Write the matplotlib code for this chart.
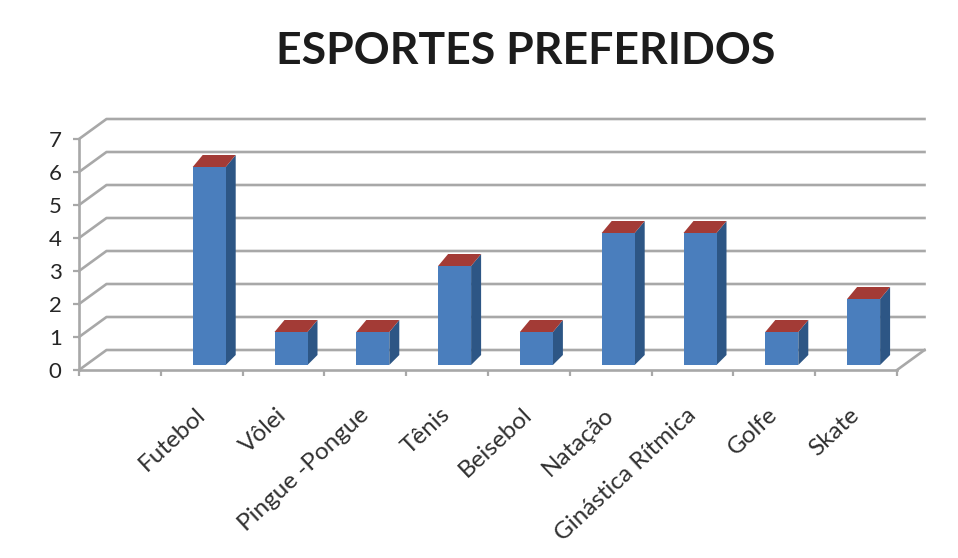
import matplotlib
matplotlib.use("Agg")
import matplotlib.pyplot as plt
from matplotlib.patches import Polygon

plt.rcParams['font.family'] = ['Lato', 'DejaVu Sans']

title = "ESPORTES PREFERIDOS"
categories = ["Futebol", "Vôlei", "Pingue -Pongue", "Tênis", "Beisebol",
              "Natação", "Ginástica Rítmica", "Golfe", "Skate"]
values = [6, 1, 1, 3, 1, 4, 4, 1, 2]
y_ticks = [0, 1, 2, 3, 4, 5, 6, 7]

W, H = 958, 558
L, R, B, T = 79, 897, 370, 139
PX_X = (R - L) / 10
PX_Y = (B - T) / 7
GRID = "#a8a8a8"
TEXT = "#262626"
FRONT, SIDE, TOP = "#4a7ebd", "#2d5685", "#a33b36"

fig = plt.figure(figsize=(W / 100, H / 100), dpi=100, facecolor="white")
ax = fig.add_axes([L / W, 1 - B / H, (R - L) / W, (B - T) / H])
ax.set_xlim(0, 10)
ax.set_ylim(0, 7)
ax.patch.set_alpha(0)

wall_dx, wall_dy = 27.5 / PX_X, 20 / PX_Y
for v in y_ticks:
    ax.plot([0, wall_dx, 10 + wall_dx], [v, v + wall_dy, v + wall_dy],
            color=GRID, lw=1.9, clip_on=False, zorder=1, solid_joinstyle="round")
ax.plot([10, 10 + wall_dx], [0, wall_dy], color=GRID, lw=1.9, clip_on=False, zorder=1)

for s in ("top", "right"):
    ax.spines[s].set_visible(False)
for s in ("left", "bottom"):
    ax.spines[s].set_color(GRID)
    ax.spines[s].set_linewidth(1.9)
    ax.spines[s].set_zorder(2)

ax.set_yticks(y_ticks)
ax.set_xticks(range(11))
ax.set_xticklabels([])
ax.tick_params(axis="both", color=GRID, width=1.6, length=4.5)
ax.tick_params(axis="y", labelsize=16, labelcolor=TEXT, pad=8)

centers = [i + 1.5 + 7.5 / PX_X for i in range(len(values))]
bar_w = 33 / PX_X
base = 5 / PX_Y
dx, dy = 10 / PX_X, 10 / PX_Y
top_dy = 12 / PX_Y
ax.bar(centers, values, width=bar_w, bottom=base, color=FRONT, zorder=4)
for c, v in zip(centers, values):
    x0, x1 = c - bar_w / 2, c + bar_w / 2
    y0, y1 = base, base + v
    ax.add_patch(Polygon([(x1, y0), (x1 + dx, y0 + dy), (x1 + dx, y1 + top_dy), (x1, y1)],
                         closed=True, fc=SIDE, ec="none", zorder=3, clip_on=False))
    ax.add_patch(Polygon([(x0, y1), (x0 + dx, y1 + top_dy), (x1 + dx, y1 + top_dy), (x1, y1)],
                         closed=True, fc=TOP, ec="none", zorder=5, clip_on=False))

for i, name in enumerate(categories):
    ax.annotate(name, xy=(i + 1.5, 0), xytext=(0, -30), textcoords="offset points",
                rotation=43, rotation_mode="anchor", ha="right", va="center",
                fontsize=17.5, color="#303030", annotation_clip=False)

fig.text(526 / W, 1 - 51 / H, title, ha="center", va="center", fontsize=32,
         fontweight="bold", color="#1c1c1c")

fig.savefig("out.png", dpi=100, facecolor="white")
